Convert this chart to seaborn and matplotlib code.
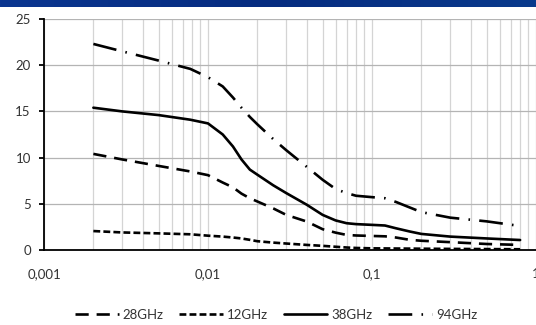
import numpy as np
import pandas as pd
import seaborn as sns
import matplotlib
matplotlib.use("Agg")
import matplotlib.pyplot as plt
from matplotlib.ticker import FixedLocator, LogLocator, NullFormatter

# ---- data ----
x_vals = [0.002, 0.003, 0.005, 0.0078, 0.01, 0.0123, 0.0142, 0.016, 0.018,
          0.02, 0.025, 0.03, 0.04, 0.05, 0.06, 0.07, 0.08, 0.1, 0.12, 0.14,
          0.17, 0.2, 0.3, 0.5, 0.8]
ghz28 = [10.4, 9.8, 9.1, 8.5, 8.1, 7.3, 6.78, 6.1, 5.6,
         5.25, 4.5, 3.8, 3.08, 2.25, 1.88, 1.63, 1.57, 1.52, 1.48, 1.35,
         1.1, 1.0, 0.85, 0.65, 0.55]
ghz12 = [2.05, 1.9, 1.8, 1.7, 1.55, 1.45, 1.35, 1.25, 1.1,
         0.95, 0.8, 0.7, 0.55, 0.45, 0.35, 0.27, 0.22, 0.18, 0.17, 0.16,
         0.15, 0.14, 0.12, 0.1, 0.08]
ghz38 = [15.4, 15.0, 14.6, 14.1, 13.7, 12.5, 11.2, 9.8, 8.7,
         8.15, 7.0, 6.16, 4.9, 3.8, 3.2, 2.9, 2.8, 2.72, 2.65, 2.35,
         2.0, 1.74, 1.45, 1.25, 1.08]
ghz94 = [22.3, 21.5, 20.5, 19.6, 18.7, 17.7, 16.5, 15.4, 14.4,
         13.6, 12.0, 10.8, 9.0, 7.6, 6.6, 6.16, 5.87, 5.72, 5.6, 5.2,
         4.6, 4.1, 3.5, 3.1, 2.6]
series_names = ["28GHz", "12GHz", "38GHz", "94GHz"]
x_tick_vals = [0.001, 0.01, 0.1, 1]
x_tick_labels = ["0,001", "0,01", "0,1", "1"]
y_tick_vals = [0, 5, 10, 15, 20, 25]

frames = []
for name, vals in zip(series_names, [ghz28, ghz12, ghz38, ghz94]):
    frames.append(pd.DataFrame({"x": x_vals, "y": vals, "series": name}))
df = pd.concat(frames, ignore_index=True)

sns.set_theme(style="white")
plt.rcParams["font.family"] = ["Lato", "DejaVu Sans"]

fig = plt.figure(figsize=(5.36, 3.25), dpi=100)
ax = fig.add_axes([44 / 536, 75 / 325, 1 - 44 / 536, (250 - 19) / 325])

dashes = {
    "28GHz": (5, 3),
    "12GHz": (2.6, 1.2),
    "38GHz": "",
    "94GHz": (9, 3.5, 0.6, 3.5),
}
palette = {n: "black" for n in series_names}
sns.lineplot(data=df, x="x", y="y", hue="series", style="series",
             hue_order=series_names, style_order=series_names,
             palette=palette, dashes=dashes, linewidth=1.9, ax=ax,
             legend=True, zorder=3)

ax.set_xscale("log")
ax.set_xlim(0.001, 1)
ax.set_ylim(0, 25)
ax.set_xlabel("")
ax.set_ylabel("")

ax.xaxis.set_major_locator(FixedLocator(x_tick_vals))
ax.set_xticklabels(x_tick_labels)
ax.xaxis.set_minor_locator(LogLocator(base=10, subs=np.arange(2, 10)))
ax.xaxis.set_minor_formatter(NullFormatter())
ax.yaxis.set_major_locator(FixedLocator(y_tick_vals))

ax.grid(True, which="major", axis="y", color="#b4b4b4", linewidth=0.9)
ax.grid(True, which="both", axis="x", color="#d4d4d4", linewidth=0.9)
ax.set_axisbelow(True)

for s in ["top", "right"]:
    ax.spines[s].set_visible(False)
for s in ["left", "bottom"]:
    ax.spines[s].set_color("black")
    ax.spines[s].set_linewidth(1.3)
    ax.spines[s].set_zorder(4)

ax.tick_params(axis="x", which="major", direction="inout", length=6,
               width=1.3, color="black", labelsize=9.5, pad=10,
               labelcolor="#333333")
ax.tick_params(axis="x", which="minor", length=0)
ax.tick_params(axis="y", which="major", direction="out", length=3.5,
               width=1.3, color="black", labelsize=9.5, pad=6,
               labelcolor="#333333", left=True)

handles, labels = ax.get_legend_handles_labels()
ax.legend_.remove()
leg = fig.legend(handles, labels, loc="center", bbox_to_anchor=(0.515, 0.032),
                 ncol=4, frameon=False, fontsize=9.5, handlelength=3.3,
                 columnspacing=1.2, handletextpad=0.3)
for t in leg.get_texts():
    t.set_color("#333333")

# top banner
grad = np.linspace(0, 1, 256).reshape(1, -1)
bax = fig.add_axes([0, 1 - 7 / 325, 1, 7 / 325])
bax.imshow(grad, aspect="auto",
           cmap=matplotlib.colors.LinearSegmentedColormap.from_list(
               "b", ["#0b3690", "#062c80", "#0a3a8c"]))
bax.set_axis_off()

fig.savefig("out.png", dpi=100)
